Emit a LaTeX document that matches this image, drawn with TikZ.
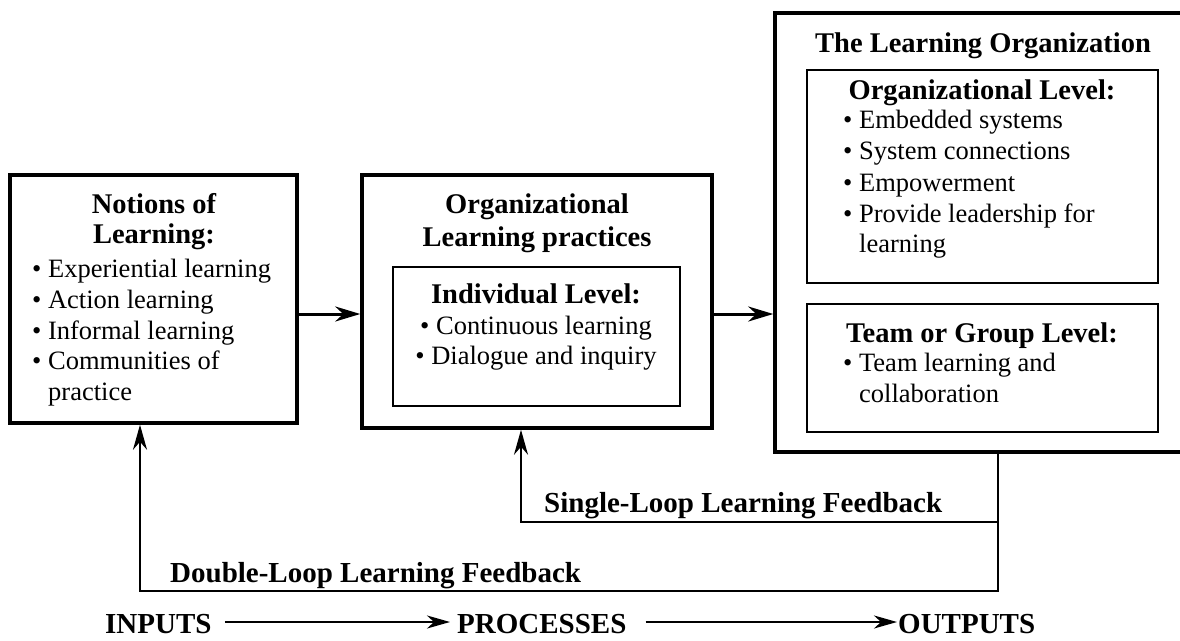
\documentclass[tikz,border=0pt]{standalone}
\usepackage{fontspec}
\setmainfont{Liberation Serif}
\usetikzlibrary{arrows.meta}
\begin{document}
\begin{tikzpicture}[x=1pt,y=-1pt,
  outerbox/.style={draw, line width=3.5pt, inner sep=0pt},
  innerbox/.style={draw, line width=2.5pt, inner sep=0pt},
  txt/.style={inner sep=0pt, font=\fontsize{26.5}{30.5}\selectfont},
  ttl/.style={inner sep=0pt, font=\fontsize{28.5}{32}\selectfont\bfseries},
  lbl/.style={inner sep=0pt, font=\fontsize{29}{33}\selectfont\bfseries},
  mainarrow/.style={line width=3pt, -{Stealth[length=25pt,width=15pt,inset=8pt]}},
  fbarrow/.style={line width=2.2pt, -{Stealth[length=25pt,width=14pt,inset=8pt]}},
  botarrow/.style={line width=2.2pt, -{Stealth[length=23pt,width=13pt,inset=7pt]}}
]
\useasboundingbox (0,0) rectangle (1180,640);
\clip (0,0) rectangle (1180,640);

% boxes
\node[outerbox, minimum width=287pt, minimum height=248pt] (notions) at (153.5,299) {};
\node[outerbox, minimum width=350pt, minimum height=253pt] (mid) at (537,301.5) {};
\node[innerbox, minimum width=287pt, minimum height=139pt] (midin) at (536.5,336.5) {};
\node[outerbox, minimum width=420pt, minimum height=439pt] (right) at (985,232.5) {};
\node[innerbox, minimum width=351pt, minimum height=213pt] (org) at (982.5,176.5) {};
\node[innerbox, minimum width=351pt, minimum height=128pt] (team) at (982.5,368) {};

% left box text
\node[ttl, anchor=base] (n1) at (154,213) {Notions of};
\node[ttl, anchor=base] (n2) at (154,243) {Learning:};
\node[txt, anchor=base west] (n3) at (32,277) {• Experiential learning};
\node[txt, anchor=base west] (n4) at (32,308) {• Action learning};
\node[txt, anchor=base west] (n5) at (32,339) {• Informal learning};
\node[txt, anchor=base west] (n6) at (32,369) {• Communities of};
\node[txt, anchor=base west] (n7) at (48,400) {practice};

% middle box text
\node[ttl, anchor=base] (m1) at (537,213) {Organizational};
\node[ttl, anchor=base] (m2) at (537,246) {Learning practices};
\node[ttl, anchor=base] (m3) at (536,303) {Individual Level:};
\node[txt, anchor=base] (m4) at (536,334) {• Continuous learning};
\node[txt, anchor=base] (m5) at (536,364) {• Dialogue and inquiry};

% right box text
\node[ttl, anchor=base] (r1) at (983,52) {The Learning Organization};
\node[ttl, anchor=base] (r2) at (982,99) {Organizational Level:};
\node[txt, anchor=base west] (r3) at (843,128) {• Embedded systems};
\node[txt, anchor=base west] (r4) at (843,159) {• System connections};
\node[txt, anchor=base west] (r5) at (843,191) {• Empowerment};
\node[txt, anchor=base west] (r6) at (843,222) {• Provide leadership for};
\node[txt, anchor=base west] (r7) at (859,252) {learning};
\node[ttl, anchor=base] (r8) at (982,342) {Team or Group Level:};
\node[txt, anchor=base west] (r9) at (843,371) {• Team learning and};
\node[txt, anchor=base west] (r10) at (859,402) {collaboration};

% forward arrows
\coordinate (ya) at (0,314);
\draw[mainarrow] (notions.east |- ya) -- (mid.west |- ya);
\draw[mainarrow] (mid.east |- ya) -- (right.west |- ya);

% feedback loops
\coordinate (fx) at (998,0);
\coordinate (dl) at (140,591);
\coordinate (sl) at (521,522);
\draw[fbarrow] (right.south -| fx) -- (fx |- dl) -- (dl) -- (notions.south -| dl);
\draw[fbarrow] (fx |- sl) -- (sl) -- (mid.south -| sl);
\node[lbl, anchor=base west] (single) at (544,512) {Single-Loop Learning Feedback};
\node[lbl, anchor=base west] (double) at (170,582) {Double-Loop Learning Feedback};

% bottom row
\node[lbl, anchor=base west] (inputs) at (105,633) {INPUTS};
\node[lbl, anchor=base west] (processes) at (457,633) {PROCESSES};
\node[lbl, anchor=base west] (outputs) at (898,633) {OUTPUTS};
\coordinate (ay) at (0,622);
\draw[botarrow, shorten <=13pt, shorten >=7pt] (inputs.east |- ay) -- (processes.west |- ay);
\draw[botarrow, shorten <=19pt, shorten >=1pt] (processes.east |- ay) -- (outputs.west |- ay);
\end{tikzpicture}
\end{document}
